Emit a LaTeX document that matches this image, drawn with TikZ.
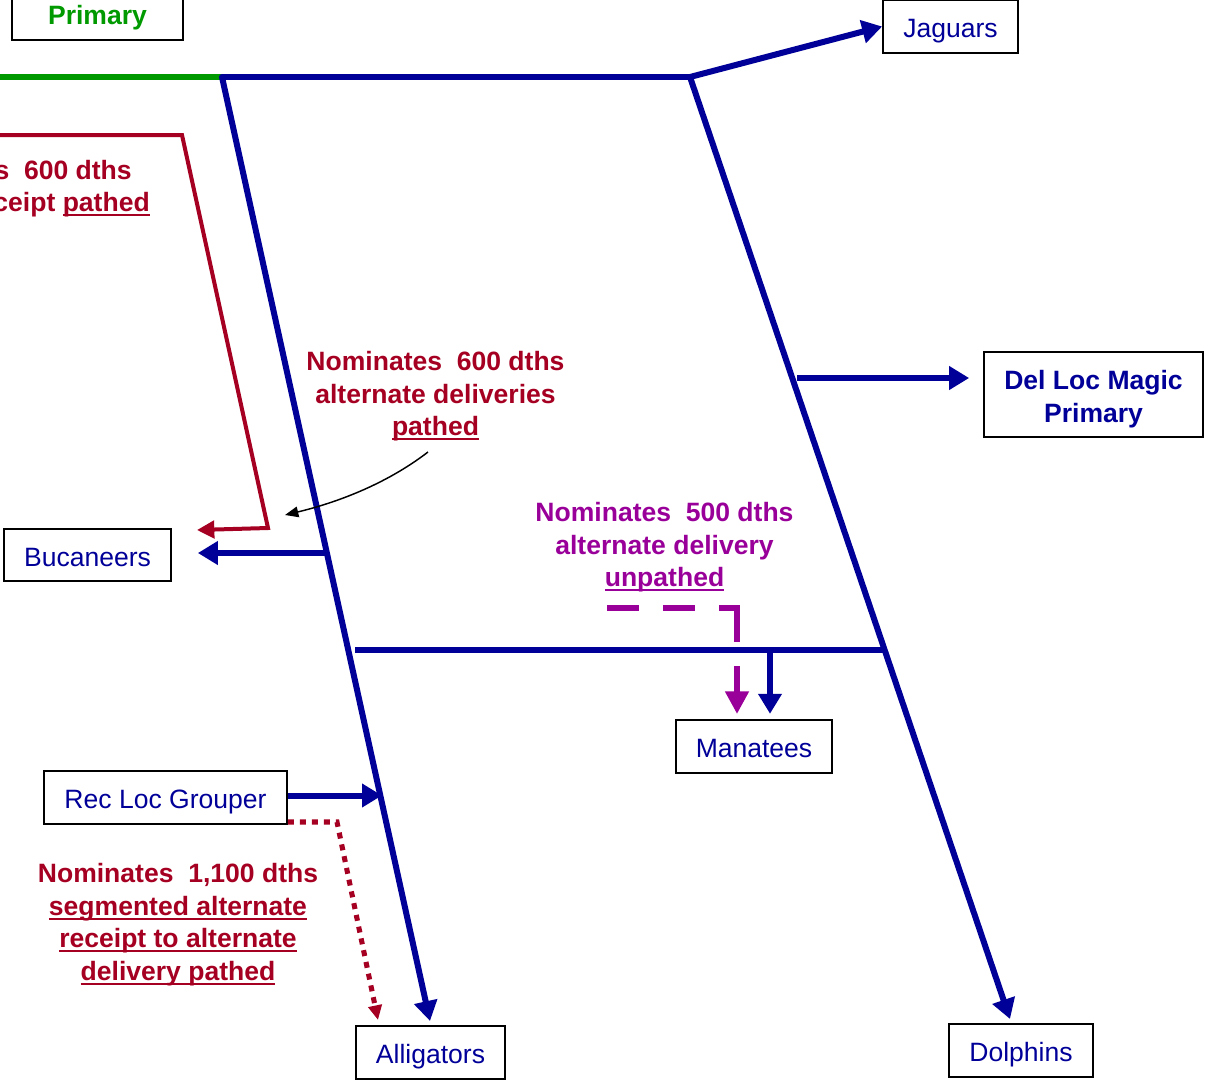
\documentclass[tikz,border=0pt]{standalone}
\usepackage{fontspec}
\setmainfont{Liberation Sans}
\usetikzlibrary{arrows.meta}
\definecolor{dblue}{HTML}{000099}
\definecolor{dgreen}{HTML}{009900}
\definecolor{dred}{HTML}{A50021}
\definecolor{mag}{HTML}{990099}
\newlength\myulw
\newcommand\myul[1]{\settowidth\myulw{#1}\rlap{\rule[-3.4pt]{\myulw}{1.5pt}}#1}
\begin{document}
\begin{tikzpicture}[x=0.75pt,y=-0.75pt,
  txt/.style={font=\fontsize{19.9}{24.4}\selectfont, align=center, inner sep=0pt},
  btxt/.style={txt, font=\fontsize{19.9}{24.4}\selectfont\bfseries},
  box/.style={draw=black, line width=1.3pt, inner sep=0pt, txt, text=dblue, text height=17pt, text depth=0pt},
  bline/.style={draw=dblue, line width=4.5pt},
  barrow/.style={bline, -{Triangle[length=15pt,width=17pt]}},
  rline/.style={draw=dred, line width=3pt},
  rarrow/.style={rline, -{Triangle[length=13pt,width=13pt]}},
  dotarrow/.style={draw=dred, line width=3.8pt, dash pattern=on 4.5pt off 4.5pt, -{Triangle[length=11pt,width=10pt]}},
  mdash/.style={draw=mag, line width=4.5pt, dash pattern=on 24pt off 18pt},
]
\useasboundingbox (0,0) rectangle (1205,1082);
\clip (0,0) rectangle (1205,1082);

% boxes
\node[box, minimum width=128.25pt, minimum height=33.75pt, text=dgreen, font=\fontsize{19.9}{24.4}\selectfont\bfseries, text height=10.5pt] (primary) at (97.5,17.5) {Primary};
\node[box, minimum width=101.25pt, minimum height=39.75pt] (jaguars) at (950.5,26.5) {Jaguars};
\node[draw=black, line width=1.3pt, minimum width=164.25pt, minimum height=63.75pt] (delloc) at (1093.5,394.5) {};
\node[btxt, text=dblue] (delloctext) at (1093.5,399) {Del Loc Magic\\Primary};
\node[box, minimum width=125.25pt, minimum height=39pt] (bucaneers) at (87.5,555) {Bucaneers};
\node[box, minimum width=117pt, minimum height=39.75pt] (manatees) at (754,746.5) {Manatees};
\node[box, minimum width=182.25pt, minimum height=39.75pt] (recloc) at (165.5,797.5) {Rec Loc Grouper};
\node[box, minimum width=111.75pt, minimum height=39.75pt] (alligators) at (430.5,1052.5) {Alligators};
\node[box, minimum width=108pt, minimum height=39.75pt] (dolphins) at (1021,1050.5) {Dolphins};

% junction coordinates
\coordinate (gL) at (0,77);
\coordinate (J1) at (222,77);
\coordinate (J2) at (690,77);
\coordinate (R1) at (797,378);
\coordinate (M1) at (355,650);
\coordinate (M2) at (885,650);
\coordinate (M3) at (770,650);
\coordinate (B1) at (325,553);
\coordinate (L1) at (382,795.5);
\coordinate (D1) at (1010,1019);
\coordinate (A1) at (430,1021);

% main lines
\draw[draw=dgreen, line width=4.5pt] (gL) -- (J1);
\draw[bline, line cap=round, line join=round] (J1) -- (J2);
\draw[barrow] (J2) -- (jaguars.west);
\draw[barrow] (J1) -- (A1);
\draw[barrow] (J2) -- (D1);
\draw[barrow, shorten >=10.5pt] (R1) -- (R1 -| delloc.west);
\draw[bline] (M1) -- (M2);
\draw[barrow, shorten >=4pt] (M3) -- (M3 |- manatees.north);
\draw[barrow, shorten >=19.5pt] (B1) -- (B1 -| bucaneers.east);
\draw[barrow] (recloc.east |- L1) -- (L1);

% red pathed receipt line
\coordinate (r0) at (0,135);
\coordinate (r1) at (182,135);
\coordinate (r2) at (268,528);
\coordinate (r3) at (197,530);
\draw[rarrow] (r0) -- (r1) -- (r2) -- (r3);

% dotted red segmented line
\coordinate (s1) at (337,822);
\coordinate (s2) at (378,1020);
\draw[dotarrow] (recloc.south east |- s1) -- (s1) -- (s2);

% magenta dashed unpathed line
\coordinate (m0) at (607,608);
\coordinate (m1) at (740,608);
\coordinate (m2) at (737,610);
\coordinate (m3) at (737,714);
\draw[mdash] (m0) -- (m1);
\draw[mdash, -{Triangle[length=17pt,width=17pt]}] (m2) -- (m3);

% curved black pointer
\coordinate (c0) at (428,452);
\coordinate (c1) at (285,515);
\draw[black, line width=1.1pt, -{Triangle[length=10pt,width=8pt]}] (c0) .. controls (385,485) and (335,503) .. (c1);

% texts
\node[btxt, text=dred, anchor=base east] (t1a) at (132,179) {Nominates\ \ 600 dths};
\node[btxt, text=dred, anchor=base east] (t1b) at (150,211) {alternate receipt \myul{pathed}};
\node[btxt, text=dred] (t2) at (435.5,396.5) {Nominates\ \ 600 dths\\alternate deliveries\\\myul{pathed}};
\node[btxt, text=mag] (t3) at (664.5,547.5) {Nominates\ \ 500 dths\\alternate delivery\\\myul{unpathed}};
\node[btxt, text=dred] (t4) at (178,924.5) {Nominates\ \ 1,100 dths\\\myul{segmented alternate}\\\myul{receipt to alternate}\\\myul{delivery pathed}};
\end{tikzpicture}
\end{document}
